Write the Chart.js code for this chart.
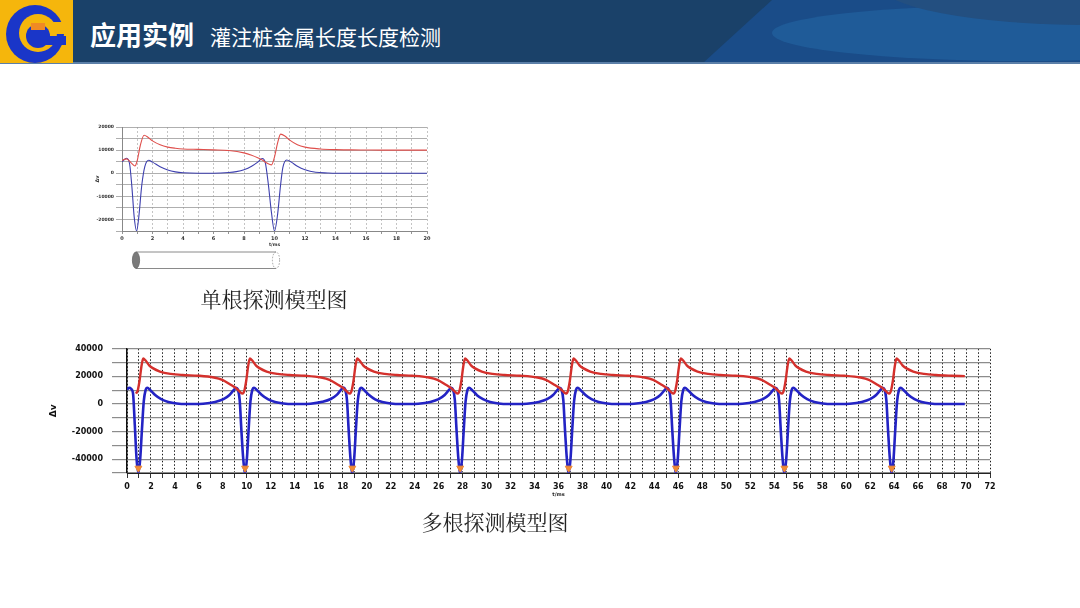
<!DOCTYPE html>
<html><head><meta charset="utf-8">
<script src="https://cdn.jsdelivr.net/npm/chart.js@4.4.0/dist/chart.umd.min.js"></script>
<style>
html,body{margin:0;padding:0;width:1080px;height:608px;overflow:hidden;background:#ffffff;font-family:"Noto Sans CJK SC","Noto Sans",sans-serif;}
#header{position:absolute;left:0;top:0;width:1080px;height:63px;background:#1a4169;overflow:hidden;}
#mid{position:absolute;left:0;top:0;width:1080px;height:63px;background:#1a4c88;clip-path:polygon(703px 63px,772px 0px,1080px 0px,1080px 63px);}
#corner{position:absolute;left:880px;top:-55px;width:420px;height:80px;border-radius:50%;background:#234f80;}
#light{position:absolute;left:772px;top:5px;width:500px;height:56px;border-radius:50%;background:#1f5b98;}
#hline{position:absolute;left:0;top:62px;width:1080px;height:2px;background:#5b7fa8;}
#title{position:absolute;left:90px;top:16px;color:#fff;font-size:26px;font-weight:bold;line-height:36px;white-space:nowrap;}
#subtitle{position:absolute;left:210px;top:18px;color:#fff;font-size:21px;line-height:36px;white-space:nowrap;}
.cap{position:absolute;width:240px;text-align:center;font-size:21px;line-height:26px;color:#222;font-family:"Noto Serif CJK SC","Noto Sans CJK SC",serif;}
.box{position:absolute;}
canvas{display:block;}
</style></head>
<body>
<div id="header"><div id="mid"></div><div id="light"></div><div id="corner"></div></div>
<div id="hline"></div>
<svg style="position:absolute;left:0;top:0" width="73" height="63">
  <rect width="73" height="63" fill="#f5b60c"/>
  <circle cx="35" cy="34" r="29" fill="#1a36c8"/>
  <circle cx="38" cy="33" r="19" fill="#f5b60c"/>
  <rect x="46" y="22" width="27" height="12" fill="#f5b60c"/>
  <circle cx="38" cy="36" r="12" fill="#1a36c8"/>
  <rect x="38" y="36" width="28" height="9" fill="#1a36c8"/>
  <rect x="31" y="23" width="14" height="7" fill="#f08a24"/>
</svg>
<div id="title">应用实例</div>
<div id="subtitle">灌注桩金属长度长度检测</div>

<div class="box" style="left:95px;top:115px;width:345px;height:133px;"><canvas id="c1" width="345" height="133"></canvas></div>
<svg style="position:absolute;left:0;top:0;pointer-events:none" width="1080" height="608">
  <line x1="136" y1="252" x2="276" y2="252" stroke="#8a8a8a" stroke-width="1"/>
  <line x1="136" y1="268.5" x2="276" y2="268.5" stroke="#8a8a8a" stroke-width="1"/>
  <ellipse cx="136" cy="260.2" rx="3.6" ry="8.2" fill="#7a7a7a" stroke="#666" stroke-width="0.8"/>
  <ellipse cx="276" cy="260.2" rx="3.6" ry="8.2" fill="none" stroke="#8a8a8a" stroke-width="0.8" stroke-dasharray="1.5,1.5"/>
</svg>
<div class="cap" style="left:154px;top:285px;">单根探测模型图</div>

<div class="box" style="left:40px;top:335px;width:960px;height:163px;"><canvas id="c2" width="960" height="163"></canvas></div>
<div class="cap" style="left:375px;top:508px;">多根探测模型图</div>

<script>
// ---------- single pile (top chart) ----------
const topRedX  = [0, 0.3, 0.6, 0.85, 1.0, 1.2, 1.45, 1.7, 2.0, 2.5, 3.0, 3.5, 4.0, 5.0, 6.0, 7.0, 8.0, 8.5, 8.9, 9.2, 9.5, 9.8, 10.0, 10.2, 10.4, 10.7, 11.0, 11.5, 12.0, 13.0, 14.0, 15.0, 16, 17, 18, 19, 20];
const topRedY  = [5500, 6200, 4500, 3100, 5500, 12000, 16400, 15600, 14000, 12300, 11300, 10800, 10500, 10300, 10100, 9800, 8800, 7800, 6700, 5700, 4400, 3600, 7000, 13000, 16900, 16000, 14300, 12300, 11300, 10500, 10200, 10100, 10050, 10000, 10000, 10000, 10000];
const topBlueX = [0, 0.3, 0.5, 0.65, 0.8, 0.96, 1.1, 1.3, 1.5, 1.75, 2.0, 2.5, 3.0, 3.5, 4.0, 5, 6, 7, 7.5, 8, 8.5, 8.9, 9.2, 9.4, 9.6, 9.8, 10.0, 10.2, 10.4, 10.55, 10.8, 11.1, 11.5, 12, 12.7, 13.5, 14, 16, 18, 20];
const topBlueY = [5000, 6500, 4000, -6000, -19000, -25000, -19000, -5000, 3000, 5600, 4800, 2800, 1400, 600, 200, 0, 0, 300, 700, 1500, 3000, 4800, 6400, 4500, -5000, -17000, -25000, -18000, -5000, 2500, 5700, 4800, 3000, 1500, 400, 100, 0, 0, 0, 0];
const topYTicks = [20000, 10000, 0, -10000, -20000];

// ---------- multi pile (bottom chart) ----------
const multiBlueX = [
  0, 0.2, 0.35, 0.5, 0.65, 0.8, 0.95, 1.1, 1.25, 1.4, 1.55, 1.7, 1.95, 2.35, 2.85, 3.45, 4.15, 4.95, 5.6,
  6.35, 7.35, 8.05, 8.55, 8.9, 9.1, 9.25, 9.4, 9.55, 9.7, 9.85, 10.0, 10.15, 10.3, 10.45, 10.6, 10.85, 11.25, 11.75, 12.35, 13.05, 13.85, 14.6,
  15.3, 16.3, 17.0, 17.5, 17.85, 18.05, 18.2, 18.35, 18.5, 18.65, 18.8, 18.95, 19.1, 19.25, 19.4, 19.55, 19.8, 20.2, 20.7, 21.3, 22.0, 22.8, 23.6,
  24.3, 25.3, 26.0, 26.5, 26.85, 27.05, 27.2, 27.35, 27.5, 27.65, 27.8, 27.95, 28.1, 28.25, 28.4, 28.55, 28.8, 29.2, 29.7, 30.3, 31.0, 31.8, 32.6,
  33.35, 34.35, 35.05, 35.55, 35.9, 36.1, 36.25, 36.4, 36.55, 36.7, 36.85, 37.0, 37.15, 37.3, 37.45, 37.6, 37.85, 38.25, 38.75, 39.35, 40.05, 40.85, 41.6,
  42.3, 43.3, 44.0, 44.5, 44.85, 45.05, 45.2, 45.35, 45.5, 45.65, 45.8, 45.95, 46.1, 46.25, 46.4, 46.55, 46.8, 47.2, 47.7, 48.3, 49.0, 49.8, 50.6,
  51.35, 52.35, 53.05, 53.55, 53.9, 54.1, 54.25, 54.4, 54.55, 54.7, 54.85, 55.0, 55.15, 55.3, 55.45, 55.6, 55.85, 56.25, 56.75, 57.35, 58.05, 58.85, 59.6,
  60.3, 61.3, 62.0, 62.5, 62.85, 63.05, 63.2, 63.35, 63.5, 63.65, 63.8, 63.95, 64.1, 64.25, 64.4, 64.55, 64.8, 65.2, 65.7, 66.3, 67.0, 67.8, 69.9
];
const multiBlueY = [
  10500, 11800, 11000, 8000, -15000, -40000, -50000, -40000, -18000, 2000, 10000, 11800, 10000, 6500, 3500, 1500, 400, 0, 0,
  200, 1500, 3500, 6500, 10000, 11800, 10500, 3000, -20000, -40000, -50000, -40000, -18000, 2000, 10000, 11800, 10000, 6500, 3500, 1500, 400, 0, 0,
  200, 1600, 3600, 6600, 10200, 11900, 10500, 3000, -20000, -40000, -50000, -40000, -18000, 2000, 10000, 11700, 10000, 6500, 3400, 1500, 400, 0, 0,
  200, 1500, 3500, 6500, 10000, 11800, 10400, 3000, -20000, -40000, -50000, -40000, -18000, 2000, 10000, 11800, 10000, 6400, 3500, 1500, 400, 0, 0,
  200, 1500, 3500, 6500, 10100, 11800, 10500, 3000, -20000, -40000, -50000, -40000, -18000, 2000, 10000, 11800, 10000, 6500, 3500, 1500, 400, 0, 0,
  200, 1500, 3500, 6500, 10000, 11700, 10500, 3000, -20000, -40000, -50000, -40000, -18000, 2000, 10000, 11800, 10000, 6500, 3500, 1500, 400, 0, 0,
  200, 1500, 3500, 6500, 10000, 11800, 10500, 3000, -20000, -40000, -50000, -40000, -18000, 2000, 10000, 11800, 10000, 6500, 3500, 1500, 400, 0, 0,
  200, 1500, 3500, 6500, 10000, 11800, 10500, 3000, -20000, -40000, -50000, -40000, -18000, 2000, 10000, 11800, 10000, 6500, 3500, 1500, 400, 0, 0
];
const multiRedX = [
  0.75, 0.9, 1.05, 1.2, 1.35, 1.55, 1.85, 2.15, 2.75, 3.65, 4.65, 5.95,
  7.25, 7.95, 8.65, 9.1, 9.4, 9.65, 9.8, 9.95, 10.1, 10.25, 10.45, 10.75, 11.05, 11.65, 12.55, 13.55, 14.85,
  16.2, 16.9, 17.6, 18.05, 18.35, 18.6, 18.75, 18.9, 19.05, 19.2, 19.4, 19.7, 20.0, 20.6, 21.5, 22.5, 23.8,
  25.2, 25.9, 26.6, 27.05, 27.35, 27.6, 27.75, 27.9, 28.05, 28.2, 28.4, 28.7, 29.0, 29.6, 30.5, 31.5, 32.8,
  34.25, 34.95, 35.65, 36.1, 36.4, 36.65, 36.8, 36.95, 37.1, 37.25, 37.45, 37.75, 38.05, 38.65, 39.55, 40.55, 41.85,
  43.2, 43.9, 44.6, 45.05, 45.35, 45.6, 45.75, 45.9, 46.05, 46.2, 46.4, 46.7, 47.0, 47.6, 48.5, 49.5, 50.8,
  52.25, 52.95, 53.65, 54.1, 54.4, 54.65, 54.8, 54.95, 55.1, 55.25, 55.45, 55.75, 56.05, 56.65, 57.55, 58.55, 59.85,
  61.2, 61.9, 62.6, 63.05, 63.35, 63.6, 63.75, 63.9, 64.05, 64.2, 64.4, 64.7, 65.0, 65.6, 66.5, 67.5, 68.8, 69.9
];
const multiRedY = [
  7500, 10000, 17000, 27000, 33000, 31500, 28000, 26000, 23500, 21800, 21000, 20500,
  19200, 17500, 14000, 11500, 9000, 7500, 10000, 17000, 27000, 33000, 31500, 28000, 26000, 23500, 21800, 21000, 20500,
  19200, 17500, 14000, 11500, 9000, 7500, 10000, 17000, 27000, 33000, 31500, 28000, 26000, 23500, 21800, 21000, 20500,
  19200, 17500, 14000, 11500, 9000, 7500, 10000, 17000, 27000, 33000, 31500, 28000, 26000, 23500, 21800, 21000, 20500,
  19200, 17500, 14000, 11500, 9000, 7500, 10000, 17000, 27000, 33000, 31500, 28000, 26000, 23500, 21800, 21000, 20500,
  19200, 17500, 14000, 11500, 9000, 7500, 10000, 17000, 27000, 33000, 31500, 28000, 26000, 23500, 21800, 21000, 20500,
  19200, 17500, 14000, 11500, 9000, 7500, 10000, 17000, 27000, 33000, 31500, 28000, 26000, 23500, 21800, 21000, 20500,
  19200, 17500, 14000, 11500, 9000, 7500, 10000, 17000, 27000, 33000, 31500, 28000, 26000, 23500, 21800, 21000, 20500, 20200
];
const dipX = [0.95, 9.85, 18.8, 27.8, 36.85, 45.8, 54.85, 63.8];
const dipY = [-46500, -46500, -46500, -46500, -46500, -46500, -46500, -46500];
const multiYTicks = [40000, 20000, 0, -20000, -40000];

const axisTitleX = 't/ms';
const axisTitleY = 'Δv';

function pts(xs, ys){ return xs.map((x,i)=>({x:x, y:ys[i]})); }
Chart.defaults.font.family = '"DejaVu Sans", sans-serif';

new Chart(document.getElementById('c1'), {
  type:'scatter',
  data:{datasets:[
    {data:pts(topRedX, topRedY), showLine:true, borderColor:'#df4f4c', borderWidth:1.1, pointRadius:0, cubicInterpolationMode:'monotone'},
    {data:pts(topBlueX, topBlueY), showLine:true, borderColor:'#3d3fae', borderWidth:1.1, pointRadius:0, cubicInterpolationMode:'monotone'}
  ]},
  options:{
    responsive:false, animation:false, events:[],
    layout:{padding:{top:12,right:13,left:0,bottom:0}},
    plugins:{legend:{display:false}, tooltip:{enabled:false}},
    scales:{
      x:{type:'linear', min:0, max:20,
         afterFit(s){ s.height = 17; },
         ticks:{stepSize:1, autoSkip:false, maxRotation:0, padding:2, color:'#333', font:{size:5, weight:'bold'},
                callback:(v)=> (v % 2 === 0 ? String(v) : '')},
         grid:{color:'#b5b5b5', lineWidth:0.8, tickLength:3, tickColor:'#777', tickBorderDash:[]},
         border:{display:true, color:'#888', width:1, dash:[2,2]},
         title:{display:true, text:axisTitleX, font:{size:4.5, weight:'bold'}, color:'#333', padding:0}},
      y:{type:'linear', min:-25000, max:20000,
         afterFit(s){ s.width = 27; },
         ticks:{stepSize:5000, padding:2, color:'#333', font:{size:4.5, weight:'bold'},
                callback:(v)=> (topYTicks.includes(v) ? String(v) : '')},
         grid:{color:'#9a9a9a', lineWidth:0.8, tickLength:6, tickColor:'#999'},
         border:{display:true, color:'#888', width:1},
         title:{display:true, text:axisTitleY, font:{size:5, weight:'bold'}, color:'#333', padding:0}}
    }
  }
});

new Chart(document.getElementById('c2'), {
  type:'scatter',
  data:{datasets:[
    {data:pts(dipX, dipY), showLine:false, pointStyle:'triangle', rotation:180, pointRadius:4, backgroundColor:'#f08a34', borderColor:'#f08a34', borderWidth:1},
    {data:pts(multiRedX, multiRedY), showLine:true, borderColor:'#d4302c', borderWidth:2.4, pointRadius:0, cubicInterpolationMode:'monotone'},
    {data:pts(multiBlueX, multiBlueY), showLine:true, borderColor:'#2323c4', borderWidth:2.6, pointRadius:0, cubicInterpolationMode:'monotone'}
  ]},
  options:{
    responsive:false, animation:false, events:[],
    layout:{padding:{top:13,right:10,left:0,bottom:0}},
    plugins:{legend:{display:false}, tooltip:{enabled:false}},
    scales:{
      x:{type:'linear', min:0, max:72,
         afterFit(s){ s.height = 25; },
         ticks:{stepSize:1, autoSkip:false, maxRotation:0, padding:4, color:'#111', font:{size:8, weight:'bold'},
                callback:(v)=> (v % 2 === 0 ? String(v) : '')},
         grid:{color:'#1a1a1a', lineWidth:1, tickLength:5, tickColor:'#333', tickBorderDash:[]},
         border:{display:true, color:'#222', width:1, dash:[1.5,2]},
         title:{display:true, text:axisTitleX, font:{size:5, weight:'bold'}, color:'#222', padding:0}},
      y:{type:'linear', min:-50000, max:40000,
         afterFit(s){ s.width = 87; },
         ticks:{stepSize:10000, padding:9, color:'#111', font:{size:8, weight:'bold'},
                callback:(v)=> (multiYTicks.includes(v) ? String(v) : '')},
         grid:{color:'#8c8c8c', lineWidth:1.2, tickLength:15, tickColor:'#8c8c8c'},
         border:{display:true, color:'#111', width:1.5},
         title:{display:true, text:axisTitleY, font:{size:9, weight:'bold'}, color:'#111', padding:{top:8,bottom:0}}}
    }
  }
});
</script>
</body></html>
